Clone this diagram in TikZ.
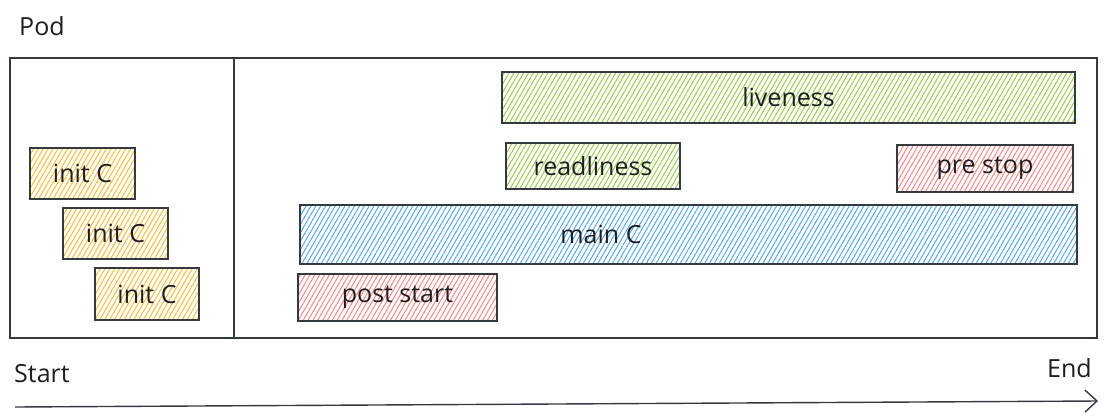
\documentclass[tikz,border=0pt]{standalone}
\usepackage{fontspec}
\setmainfont{Open Sans}
\usetikzlibrary{patterns.meta,arrows.meta}

\definecolor{ink}{HTML}{343A40}
\definecolor{pen}{HTML}{1E1E1E}
\definecolor{initc}{HTML}{FAB005}
\definecolor{probe}{HTML}{82C91E}
\definecolor{hook}{HTML}{FF6B6B}
\definecolor{mainc}{HTML}{339AF0}

\begin{document}
\begin{tikzpicture}[x=1pt,y=-1pt,
  box/.style={draw=ink,line width=1.3pt,inner sep=0pt,text=pen,
    font=\fontsize{25}{29}\selectfont,
    pattern={Lines[angle=60,distance=4.2pt,line width=1pt]},
    pattern color=#1!85!white},
  frame/.style={draw=ink,line width=1.1pt},
  caption/.style={text=pen,font=\fontsize{25}{29}\selectfont,inner sep=0pt}]
\useasboundingbox (0,0) rectangle (1107,417);

% pod frame
\node[caption,anchor=west] (pod) at (19,26) {Pod};
\draw[frame] (10,58) rectangle (1097,338);
\draw[frame] (234,58) -- (234,338);

% init containers
\node[box=initc,minimum width=105,minimum height=51] (init1) at (82.5,173.5) {init C};
\node[box=initc,minimum width=105,minimum height=51] (init2) at (115.5,233.5) {init C};
\node[box=initc,minimum width=104,minimum height=52] (init3) at (147,294) {init C};

% main container, probes and hooks
\node[box=probe,minimum width=573,minimum height=51] (liveness) at (788.5,97.5) {liveness};
\node[box=probe,minimum width=174,minimum height=46] (readliness) at (593,166) {readliness};
\node[box=hook,minimum width=176,minimum height=47] (prestop) at (985,168.5) {pre stop};
\node[box=mainc,minimum width=777,minimum height=59] (mainc) at (688.5,234.5) {};
\node[caption] (mainlabel) at (601,234) {main C};
\node[box=hook,minimum width=199,minimum height=47] (poststart) at (397.5,297.5) {post start};

% time axis
\node[caption,anchor=west] (start) at (14,374) {Start};
\node[caption,anchor=east] (end) at (1092,368) {End};
\coordinate (t0) at (15,407);
\coordinate (t1) at (1098,401);
\draw[frame,line width=1.4pt,-{Straight Barb[length=12pt,width=22pt]}] (t0) -- (t1);
\end{tikzpicture}
\end{document}
